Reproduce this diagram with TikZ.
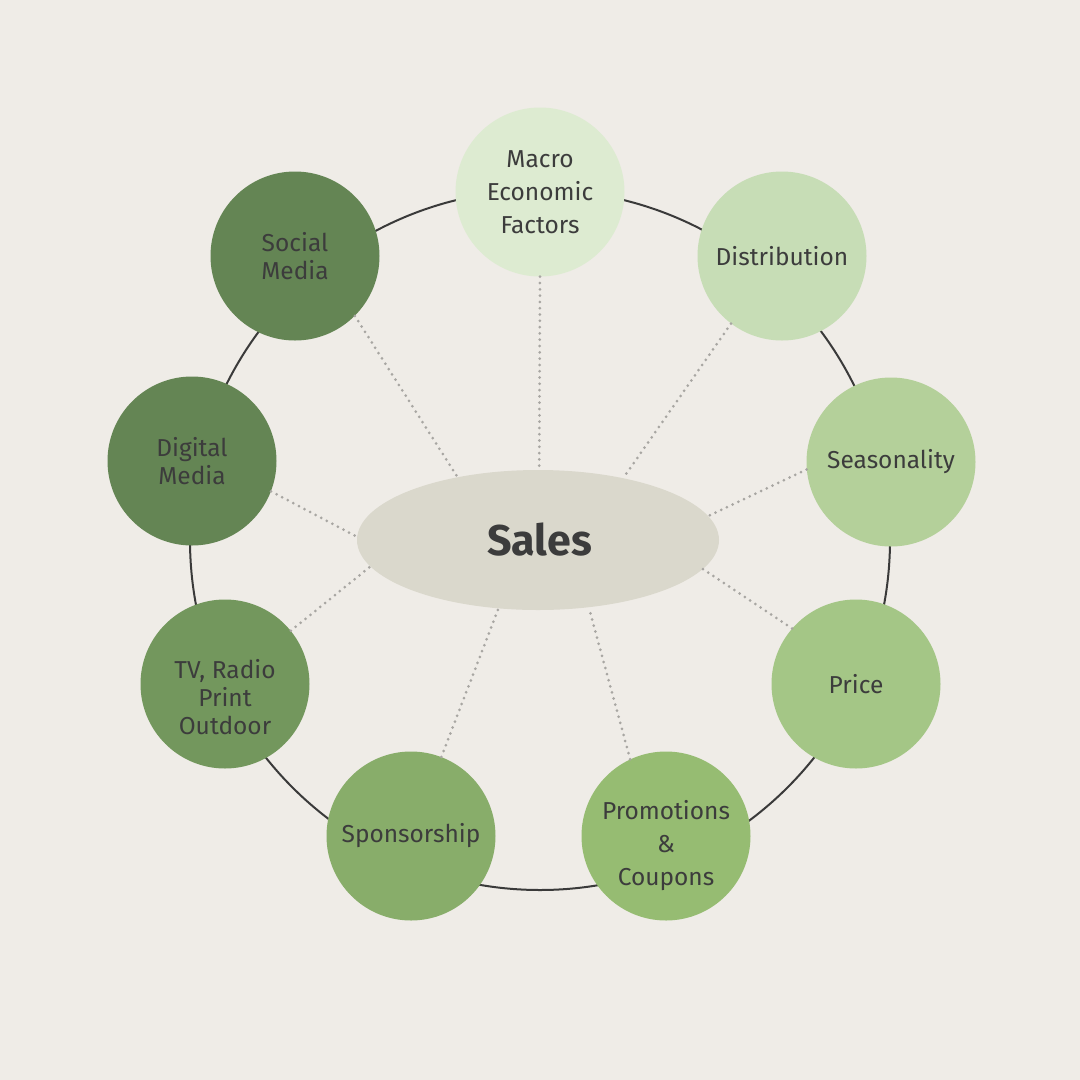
\documentclass[tikz,border=0pt]{standalone}
\usepackage{fontspec}
\setmainfont{Fira Sans}
\usetikzlibrary{shapes.geometric}
\definecolor{bg}{HTML}{EFECE7}
\definecolor{salesfill}{HTML}{DAD8CC}
\definecolor{txt}{HTML}{3C3C3C}
\definecolor{ringc}{HTML}{3A3A3A}
\definecolor{dotc}{HTML}{A8A6A2}
\definecolor{cMacro}{HTML}{DDEBD1}
\definecolor{cDist}{HTML}{C7DDB6}
\definecolor{cSeas}{HTML}{B4D09A}
\definecolor{cPrice}{HTML}{A4C686}
\definecolor{cPromo}{HTML}{96BC72}
\definecolor{cSpons}{HTML}{88AD6A}
\definecolor{cTV}{HTML}{73975D}
\definecolor{cDigital}{HTML}{648554}
\definecolor{cSocial}{HTML}{648554}
\tikzset{
  factor/.style={circle, fill=#1, minimum size=169pt, inner sep=0pt, text=txt, align=center,
    font=\fontsize{24.5}{28}\selectfont},
  wide/.style={font=\fontsize{24.5}{33}\selectfont},
  salesnode/.style={ellipse, fill=salesfill, minimum width=362pt, minimum height=140pt, inner sep=0pt,
    text=txt, font=\fontsize{43}{46}\selectfont\bfseries},
  ringline/.style={draw=ringc, line width=2pt},
  link/.style={draw=dotc, line width=3pt, line cap=round, dash pattern=on 0pt off 6.3pt}
}
\begin{document}
\begin{tikzpicture}[x=1pt,y=-1pt]
\fill[bg] (0,0) rectangle (1080,1080);
\useasboundingbox (0,0) rectangle (1080,1080);
\coordinate (ringc) at (540,540);
\draw[ringline] (ringc) circle[radius=350pt];
\node[salesnode] (sales) at (538,540) {\hspace*{3pt}Sales};
\node[factor=cMacro, wide] (macro) at (540,192) {Macro\\Economic\\Factors};
\node[factor=cDist] (dist) at (782,256) {Distribution};
\node[factor=cSeas] (seas) at (891,462) {Seasonality};
\node[factor=cPrice] (price) at (856,684) {Price};
\node[factor=cPromo, wide] (promo) at (666,836) {\rule{0pt}{38pt}Promotions\\\&\\Coupons};
\node[factor=cSpons] (spons) at (411,836) {Sponsorship};
\node[factor=cTV] (tv) at (225,684) {\rule{0pt}{46pt}TV, Radio\\Print\\Outdoor};
\node[factor=cDigital] (digital) at (192,461) {Digital\\Media};
\node[factor=cSocial] (social) at (295,256) {Social\\Media};
\draw[link] (macro.south) -- (sales.89);
\draw[link] (dist.-127) -- (sales.36);
\draw[link] (seas.185) -- (sales.8.5);
\draw[link] (price.139) -- (sales.-10);
\draw[link] (promo.115) -- (sales.-53);
\draw[link] (spons.69) -- (sales.-120);
\draw[link] (tv.39) -- (sales.189);
\draw[link] (digital.-21) -- (sales.179);
\draw[link] (social.-45) -- (sales.142);
\end{tikzpicture}
\end{document}
